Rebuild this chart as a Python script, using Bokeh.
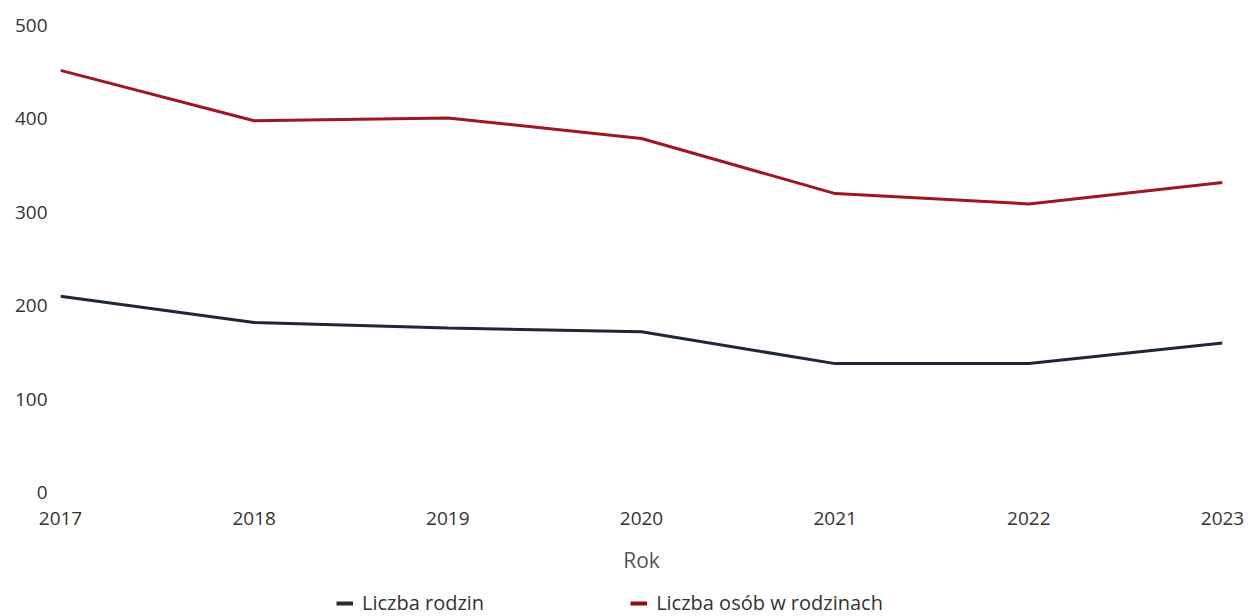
from bokeh.plotting import figure
from bokeh.models import Legend, LegendItem, FixedTicker, Range1d
from bokeh.layouts import column
from bokeh.embed import file_html
from bokeh.resources import INLINE

years = [2017, 2018, 2019, 2020, 2021, 2022, 2023]
liczba_rodzin = [210, 182, 176, 172, 138, 138, 160]
liczba_osob = [452, 398, 401, 379, 320, 309, 332]
y_ticks = [0, 100, 200, 300, 400, 500]
series_names = ["Liczba rodzin", "Liczba osób w rodzinach"]
x_label = "Rok"

FONT = "Open Sans"
TEXT = "#333333"
C_RODZ = "#1d2738"
C_OSOB = "#a0161f"

p = figure(width=1249, height=586, output_backend="svg", toolbar_location=None,
           x_range=Range1d(2017, 2023), y_range=Range1d(0, 500),
           min_border_left=60, min_border_right=27, min_border_top=25,
           min_border_bottom=94)
p.outline_line_color = None
p.grid.grid_line_color = None

p.line(years, liczba_rodzin, line_color=C_RODZ, line_width=3)
p.line(years, liczba_osob, line_color=C_OSOB, line_width=3)

xa = p.xaxis[0]
xa.ticker = FixedTicker(ticks=years)
xa.axis_label = x_label
xa.axis_line_color = None
xa.major_tick_line_color = None
xa.minor_tick_line_color = None
xa.major_tick_out = 0
xa.major_tick_in = 0
xa.major_label_standoff = 19
xa.major_label_text_font = FONT
xa.major_label_text_font_size = "19px"
xa.major_label_text_color = TEXT
xa.axis_label_standoff = 18
xa.axis_label_text_font = FONT
xa.axis_label_text_font_size = "21px"
xa.axis_label_text_font_style = "normal"
xa.axis_label_text_color = "#555555"

ya = p.yaxis[0]
ya.ticker = FixedTicker(ticks=y_ticks)
ya.axis_line_color = None
ya.major_tick_line_color = None
ya.minor_tick_line_color = None
ya.major_tick_out = 0
ya.major_tick_in = 0
ya.major_label_standoff = 13
ya.major_label_text_font = FONT
ya.major_label_text_font_size = "19px"
ya.major_label_text_color = TEXT

# legend strip below the chart
q = figure(width=1249, height=30, output_backend="svg", toolbar_location=None,
           x_range=Range1d(0, 1), y_range=Range1d(0, 1),
           x_axis_type=None, y_axis_type=None,
           min_border_left=0, min_border_right=0, min_border_top=0,
           min_border_bottom=0)
q.outline_line_color = None
q.grid.grid_line_color = None
l1 = q.line([-10, -9], [-10, -10], line_color="#2b2b2b", line_width=4)
l2 = q.line([-10, -9], [-10, -10], line_color="#8e0e12", line_width=4)

legend = Legend(items=[LegendItem(label=series_names[0], renderers=[l1]),
                       LegendItem(label=series_names[1], renderers=[l2])],
                orientation="horizontal", location=(276, 0),
                spacing=146, glyph_width=17, glyph_height=18,
                label_standoff=9, label_text_font=FONT,
                label_text_font_size="20px", label_text_color=TEXT,
                border_line_color=None, background_fill_alpha=0,
                padding=0, margin=0)
q.add_layout(legend, "center")

open("out.html", "w").write(file_html(column(p, q, spacing=0), INLINE))
